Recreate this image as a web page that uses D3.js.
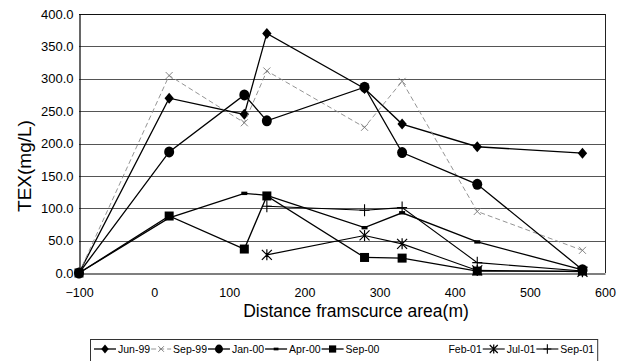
<!DOCTYPE html>
<html>
<head>
<meta charset="utf-8">
<script src="https://cdn.jsdelivr.net/npm/d3@7"></script>
<style>
  body { margin: 0; background: #fff; }
  svg { font-family: "Liberation Sans", Arial, sans-serif; }
</style>
</head>
<body>
<svg id="chart"></svg>
<script>
const distances = [-100, 20, 120, 150, 280, 330, 430, 570];

const jun99 = [0, 270, 245, 370, 285, 230, 195, 185];
const sep99 = [0, 305, 232, 312, 225, 296, 95, 35];
const jan00 = [0, 187, 275, 235, 287, 186, 137, 5];
const apr00 = [0, 85, 123, 120, 70, 93, 48, 5];
const sep00 = [0, 88, 37, 119, 24, 23, 3, 3];
const feb01 = [null, null, null, null, null, null, null, null];
const jul01 = [null, null, null, 28, 58, 45, 4, 2];
const sep01 = [null, null, null, 103, 97, 101, 16, 3];

const seriesNames = ["Jun-99", "Sep-99", "Jan-00", "Apr-00", "Sep-00", "Feb-01", "Jul-01", "Sep-01"];
const yTicks = [0, 50, 100, 150, 200, 250, 300, 350, 400];
const xTicks = [-100, 0, 100, 200, 300, 400, 500, 600];

const width = 622;
const height = 361;
const margin = { top: 14, left: 79, bottom: 88, right: 17 };

const allValues = [jun99, sep99, jan00, apr00, sep00, feb01, jul01, sep01];
const styles = {
  "Jun-99": { marker: "diamond", stroke: "#000", dash: null, sw: 1.3 },
  "Sep-99": { marker: "x", stroke: "#888", dash: "5,3", sw: 0.9 },
  "Jan-00": { marker: "circle", stroke: "#000", dash: null, sw: 1.3 },
  "Apr-00": { marker: "dash", stroke: "#000", dash: null, sw: 1.3 },
  "Sep-00": { marker: "square", stroke: "#000", dash: null, sw: 1.3 },
  "Feb-01": { marker: "none", stroke: "none", dash: null, sw: 0 },
  "Jul-01": { marker: "star", stroke: "#000", dash: null, sw: 1.1 },
  "Sep-01": { marker: "plus", stroke: "#000", dash: null, sw: 1.1 }
};

const series = seriesNames.map((name, i) => ({
  name: name,
  points: distances.map((d, j) => ({ x: d, y: allValues[i][j] })).filter(p => p.y !== null)
}));

const svg = d3.select("#chart").attr("width", width).attr("height", height);

const x = d3.scaleLinear().domain([-100, 600]).range([margin.left, width - margin.right]);
const y = d3.scaleLinear().domain([0, 400]).range([height - margin.bottom, margin.top]);

// grid lines
svg.append("g")
  .selectAll("line")
  .data(yTicks.filter(t => t > 0))
  .enter()
  .append("line")
    .attr("x1", margin.left)
    .attr("x2", width - margin.right)
    .attr("y1", d => Math.round(y(d)) + 0.5)
    .attr("y2", d => Math.round(y(d)) + 0.5)
    .attr("stroke", d => d === 400 ? "#111" : "#555")
    .attr("stroke-width", 1);

// right border
svg.append("line")
  .attr("x1", width - margin.right + 0.5)
  .attr("x2", width - margin.right + 0.5)
  .attr("y1", margin.top)
  .attr("y2", height - margin.bottom)
  .attr("stroke", "#222");

// axes
const yAxis = d3.axisLeft(y)
  .tickValues(yTicks)
  .tickFormat(d3.format(".1f"))
  .tickSize(0)
  .tickPadding(6);

const xAxis = d3.axisBottom(x)
  .tickValues(xTicks)
  .tickFormat(d3.format("d"))
  .tickSize(0)
  .tickPadding(15);

svg.append("g")
  .attr("transform", `translate(${margin.left + 0.5},0)`)
  .call(yAxis)
  .call(g => g.select(".domain").attr("stroke", "#000").attr("stroke-width", 1.2))
  .selectAll("text")
    .style("font-size", "13px")
    .attr("fill", "#000");

svg.append("g")
  .attr("transform", `translate(0,${height - margin.bottom + 0.5})`)
  .call(xAxis)
  .call(g => g.select(".domain").attr("stroke", "#000").attr("stroke-width", 1.2))
  .selectAll("text")
    .style("font-size", "12.5px")
    .attr("fill", "#000");

// axis titles
svg.append("text")
  .attr("transform", "translate(31,166) rotate(-90)")
  .attr("text-anchor", "middle")
  .style("font-size", "19px")
  .text("TEX(mg/L)");

svg.append("text")
  .attr("x", 356)
  .attr("y", 317)
  .attr("text-anchor", "middle")
  .style("font-size", "17.5px")
  .text("Distance framscurce area(m)");

// markers
function drawMarker(g, type, cx, cy, scale) {
  const s = scale || 1;
  if (type === "diamond") {
    const r = 5.5 * s;
    g.append("path").attr("d", `M${cx},${cy - r}L${cx + r * 0.85},${cy}L${cx},${cy + r}L${cx - r * 0.85},${cy}Z`).attr("fill", "#000");
  } else if (type === "circle") {
    g.append("ellipse").attr("cx", cx).attr("cy", cy).attr("rx", 5 * s).attr("ry", 5.5 * s).attr("fill", "#000");
  } else if (type === "square") {
    const h = 4.5 * s;
    g.append("rect").attr("x", cx - h).attr("y", cy - h).attr("width", 2 * h).attr("height", 2 * h).attr("fill", "#000");
  } else if (type === "dash") {
    g.append("rect").attr("x", cx - 3 * s).attr("y", cy - 1.7 * s).attr("width", 6 * s).attr("height", 3.4 * s).attr("fill", "#000");
  } else if (type === "x") {
    const r = 3.5 * s;
    g.append("path").attr("d", `M${cx - r},${cy - r}L${cx + r},${cy + r}M${cx + r},${cy - r}L${cx - r},${cy + r}`)
      .attr("stroke", "#777").attr("stroke-width", 0.9);
  } else if (type === "star") {
    const r = 5 * s;
    g.append("path").attr("d", `M${cx - r},${cy - r}L${cx + r},${cy + r}M${cx + r},${cy - r}L${cx - r},${cy + r}M${cx},${cy - r * 1.1}L${cx},${cy + r * 1.1}`)
      .attr("stroke", "#000").attr("stroke-width", 1.2);
  } else if (type === "plus") {
    const r = 5 * s;
    g.append("path").attr("d", `M${cx - r},${cy}L${cx + r},${cy}M${cx},${cy - r * 1.2}L${cx},${cy + r * 1.2}`)
      .attr("stroke", "#000").attr("stroke-width", 1.1);
  }
}

const line = d3.line().x(d => x(d.x)).y(d => y(d.y));

const plot = svg.append("g");
series.forEach(s => {
  const st = styles[s.name];
  if (s.points.length === 0) return;
  plot.append("path")
    .datum(s.points)
    .attr("d", line)
    .attr("fill", "none")
    .attr("stroke", st.stroke)
    .attr("stroke-width", st.sw)
    .attr("stroke-dasharray", st.dash);
  const mg = plot.append("g");
  s.points.forEach(p => drawMarker(mg, st.marker, x(p.x), y(p.y)));
});

// legend
const legend = svg.append("g");
const legendTop = 339;
const legendRow = 349;
let lx = 94;
const items = legend.append("g");
seriesNames.forEach(name => {
  const st = styles[name];
  const sampleW = name === "Feb-01" ? 66 : (name === "Sep-99" ? 20 : 22);
  if (st.stroke !== "none") {
    items.append("line")
      .attr("x1", lx).attr("x2", lx + sampleW)
      .attr("y1", legendRow).attr("y2", legendRow)
      .attr("stroke", st.stroke)
      .attr("stroke-width", st.sw)
      .attr("stroke-dasharray", st.dash);
    drawMarker(items, st.marker, lx + sampleW / 2, legendRow, 0.8);
  }
  const t = items.append("text")
    .attr("x", lx + sampleW + 2)
    .attr("y", legendRow + 4)
    .style("font-size", "10.5px")
    .text(name);
  lx += sampleW + 2 + t.node().getComputedTextLength() + 1;
});

legend.insert("rect", ":first-child")
  .attr("x", 90.5)
  .attr("y", legendTop + 0.5)
  .attr("width", lx - 90 + 2)
  .attr("height", 24)
  .attr("fill", "#fff")
  .attr("stroke", "#333")
  .attr("stroke-width", 1);
</script>
</body>
</html>
